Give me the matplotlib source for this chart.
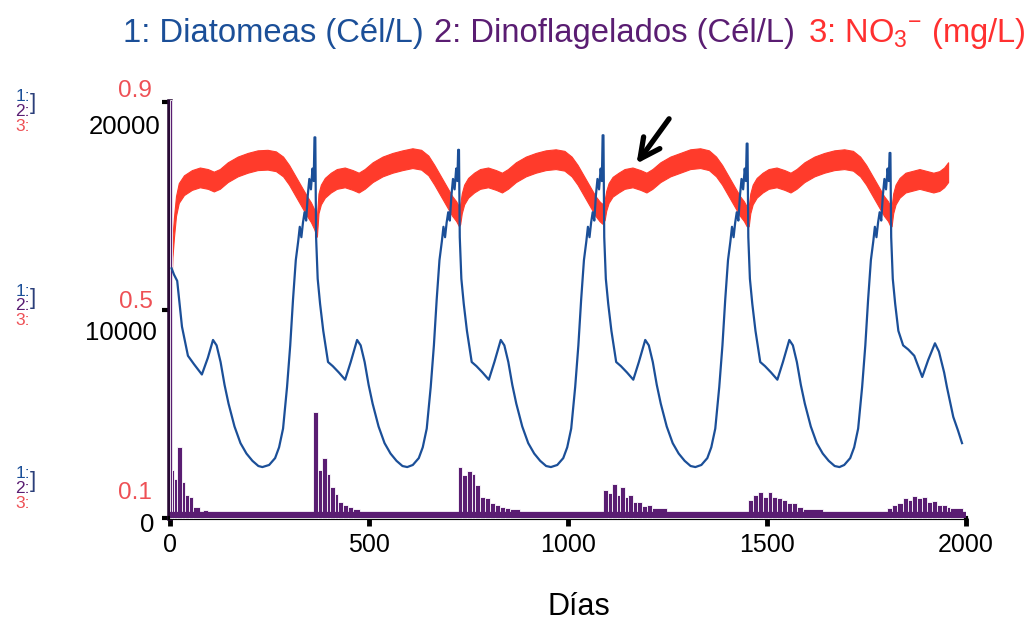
import numpy as np
import matplotlib
matplotlib.use('Agg')
import matplotlib.pyplot as plt

plt.rcParams['font.family'] = ['Liberation Sans', 'DejaVu Sans']
plt.rcParams['mathtext.fontset'] = 'custom'
plt.rcParams['mathtext.rm'] = 'Liberation Sans'
plt.rcParams['mathtext.it'] = 'Liberation Sans:italic'

# ---- data ----
# 1: Diatomeas (Cel/L)
diat_day = [4, 10, 18, 30, 45, 60, 80, 95, 108, 117, 127, 137, 147, 162, 177, 192, 207, 222, 232,
            249, 264, 274, 284, 294, 302, 309, 316, 322, 326, 330, 334, 338, 342, 346, 350, 354, 358, 361, 363,
            365, 367, 371, 377, 385, 397, 409, 424, 440, 454, 470, 479, 489, 499, 509, 524, 539, 554, 569, 584, 596,
            610, 625, 635, 645, 655, 663, 670, 677, 683, 687, 691, 695, 699, 703, 707, 711, 715, 719, 722, 724,
            726, 728, 732, 738, 746, 758, 770, 785, 801, 815, 831, 840, 850, 860, 870, 885, 900, 915, 930, 945, 957,
            973, 988, 998, 1008, 1018, 1026, 1033, 1040, 1046, 1050, 1054, 1058, 1062, 1066, 1070, 1074, 1078, 1082, 1085, 1087,
            1089, 1091, 1095, 1101, 1109, 1121, 1133, 1148, 1164, 1178, 1194, 1203, 1213, 1223, 1233, 1248, 1263, 1278, 1293, 1308, 1320,
            1335, 1350, 1360, 1370, 1380, 1388, 1395, 1402, 1408, 1412, 1416, 1420, 1424, 1428, 1432, 1436, 1440, 1444, 1447, 1449,
            1451, 1453, 1457, 1463, 1471, 1483, 1495, 1510, 1526, 1540, 1556, 1565, 1575, 1585, 1595, 1610, 1625, 1640, 1655, 1670, 1682,
            1694, 1709, 1719, 1729, 1739, 1747, 1754, 1761, 1767, 1771, 1775, 1779, 1783, 1787, 1791, 1795, 1799, 1803, 1806, 1808,
            1810, 1812, 1816, 1822, 1830, 1842, 1855, 1870, 1890, 1905, 1922, 1932, 1945, 1952, 1968, 1980, 1990]
diat_val = [12000, 11700, 11400, 9200, 7800, 7400, 6900, 7700, 8560, 8300, 7500, 6400, 5500, 4400, 3600, 3100, 2750, 2500, 2450,
            2550, 2880, 3400, 4300, 6300, 8300, 10500, 12400, 13300, 14000, 13500, 14200, 14700, 14300, 15500, 16300, 15800, 16800, 16200, 18300,
            18300, 13500, 11500, 10300, 9000, 7500, 7300, 7000, 6650, 7500, 8560, 8300, 7500, 6400, 5500, 4400, 3600, 3100, 2750, 2500, 2450,
            2550, 2880, 3400, 4300, 6300, 8300, 10500, 12400, 13300, 14000, 13500, 14200, 14700, 14300, 15500, 16300, 15800, 16800, 16200, 17700,
            17700, 13500, 11500, 10300, 9000, 7500, 7300, 7000, 6650, 7500, 8560, 8300, 7500, 6400, 5500, 4400, 3600, 3100, 2750, 2500, 2450,
            2550, 2880, 3400, 4300, 6300, 8300, 10500, 12400, 13300, 14000, 13500, 14200, 14700, 14300, 15500, 16300, 15800, 16800, 16200, 18400,
            18400, 13500, 11500, 10300, 9000, 7500, 7300, 7000, 6650, 7500, 8560, 8300, 7500, 6400, 5500, 4400, 3600, 3100, 2750, 2500, 2450,
            2550, 2880, 3400, 4300, 6300, 8300, 10500, 12400, 13300, 14000, 13500, 14200, 14700, 14300, 15500, 16300, 15800, 16800, 16200, 18000,
            18000, 13500, 11500, 10300, 9000, 7500, 7300, 7000, 6650, 7500, 8560, 8300, 7500, 6400, 5500, 4400, 3600, 3100, 2750, 2500, 2450,
            2550, 2880, 3400, 4300, 6300, 8300, 10500, 12400, 13300, 14000, 13500, 14200, 14700, 14300, 15500, 16300, 15800, 16800, 16200, 17550,
            17550, 13500, 11500, 10300, 9000, 8300, 8100, 7800, 6780, 7600, 8400, 8000, 7000, 6300, 4860, 4200, 3600]

# 2: Dinoflagelados (Cel/L) - bar starts and heights (0 = gap)
dino_day = [0, 5, 9, 17, 30, 38, 48, 58, 75, 83, 95,
            359, 372, 382, 395, 402, 415, 422, 435, 447, 460, 477,
            724, 734, 746, 759, 766, 779, 792, 804, 817, 829, 842, 854, 880,
            1088, 1101, 1111, 1123, 1131, 1143, 1151, 1163, 1173, 1186, 1198, 1211, 1249,
            1452, 1465, 1478, 1490, 1503, 1513, 1525, 1538, 1550, 1563, 1575, 1590, 1641,
            1802, 1814, 1827, 1842, 1855, 1865, 1877, 1890, 1902, 1915, 1927, 1940, 1952, 1960, 1993]
dino_val = [20100, 2300, 1900, 3400, 1750, 1100, 1000, 550, 0, 400, 0,
            5100, 2300, 2900, 2100, 1500, 1150, 770, 620, 530, 430, 0,
            2450, 2050, 2250, 2100, 1600, 1000, 950, 720, 650, 520, 480, 430, 0,
            1350, 1200, 1630, 1100, 1500, 1000, 1100, 770, 770, 580, 625, 480, 0,
            870, 1100, 1250, 1000, 1250, 1000, 960, 870, 720, 720, 530, 430, 0,
            480, 625, 720, 960, 870, 1060, 960, 1000, 770, 800, 625, 625, 530, 480, 0]
dino_base = 150

# 3: NO3- (mg/L), centre of the noisy band
no3_day = [0, 3, 6, 10, 15, 22, 35, 55, 75, 95, 110, 125, 145, 170, 195, 220, 245, 266, 284, 299, 314, 329, 344, 354, 362, 369,
           373, 379, 389, 404, 419, 439, 459, 474, 489, 509, 534, 559, 584, 609, 631, 649, 664, 679, 694, 709, 719, 726, 729,
           733, 739, 749, 764, 779, 799, 819, 834, 849, 869, 894, 919, 944, 969, 991, 1009, 1024, 1039, 1054, 1069, 1079, 1086, 1092,
           1096, 1102, 1112, 1127, 1142, 1162, 1182, 1197, 1212, 1232, 1257, 1282, 1307, 1332, 1354, 1372, 1387, 1402, 1417, 1432, 1442, 1449, 1454,
           1458, 1464, 1474, 1489, 1504, 1524, 1544, 1559, 1574, 1594, 1619, 1644, 1669, 1694, 1716, 1734, 1749, 1764, 1779, 1794, 1804, 1810, 1813,
           1817, 1823, 1833, 1848, 1863, 1883, 1903, 1918, 1933, 1945, 1955]
no3_val = [0.42, 0.55, 0.62, 0.66, 0.70, 0.725, 0.74, 0.75, 0.755, 0.752, 0.747, 0.752, 0.765, 0.776, 0.783, 0.788, 0.789, 0.786, 0.776, 0.76, 0.74, 0.72, 0.70, 0.688, 0.675, 0.66,
           0.705, 0.722, 0.735, 0.745, 0.752, 0.755, 0.75, 0.745, 0.752, 0.765, 0.776, 0.783, 0.788, 0.792, 0.789, 0.778, 0.76, 0.74, 0.72, 0.70, 0.69, 0.68, 0.684,
           0.705, 0.722, 0.735, 0.745, 0.752, 0.755, 0.75, 0.745, 0.752, 0.765, 0.776, 0.783, 0.788, 0.79, 0.787, 0.776, 0.76, 0.74, 0.72, 0.70, 0.69, 0.685, 0.692,
           0.71, 0.725, 0.737, 0.745, 0.752, 0.755, 0.75, 0.745, 0.752, 0.765, 0.776, 0.783, 0.79, 0.792, 0.788, 0.776, 0.76, 0.74, 0.72, 0.70, 0.69, 0.68, 0.68,
           0.705, 0.722, 0.735, 0.745, 0.752, 0.755, 0.75, 0.745, 0.752, 0.765, 0.776, 0.783, 0.788, 0.79, 0.787, 0.776, 0.76, 0.74, 0.72, 0.70, 0.69, 0.68, 0.68,
           0.705, 0.722, 0.735, 0.745, 0.748, 0.752, 0.748, 0.745, 0.748, 0.755, 0.765]

x_ticks = [0, 500, 1000, 1500, 2000]
left_vals = [0.9, 0.5, 0.1]
left_counts = ['20000', '10000', '0']
title_parts = ['1: Diatomeas (Cél/L)', '2: Dinoflagelados (Cél/L)', '3: NO$_3$$^{-}$ (mg/L)']

c_blue = '#1b4f98'
c_purple = '#5a1d72'
c_red = '#ff3b2b'
c_red_txt = '#ee5055'

fig = plt.figure(figsize=(10.28, 6.23), dpi=100)
ax = fig.add_axes([0.1654, 0.1685, 0.7743, 0.6678])
ax2 = ax.twinx()

# NO3 band (drawn underneath)
no3_day = np.array(no3_day)
no3_val = np.array(no3_val)
band = 0.019
ax.fill_between(no3_day, no3_val - band, no3_val + band, color=c_red, lw=0.8, edgecolor=c_red)
ax.set_ylim(0.1, 0.9)
ax.set_xlim(0, 2000)

# dinoflagellates
dd = np.array(dino_day)
dv = np.array(dino_val)
ax2.bar(dd[:-1], dv[:-1], width=np.diff(dd), align='edge', color=c_purple,
        edgecolor='white', linewidth=0.6, zorder=2, clip_on=False)
ax2.axhline(dino_base, xmin=0, xmax=0.997, color=c_purple, lw=4.5, zorder=3)

# diatoms
ax2.plot(diat_day, diat_val, color=c_blue, lw=1.6, zorder=4)
ax2.set_ylim(0, 20000)
ax2.set_xlim(0, 2000)
for s in ax2.spines.values():
    s.set_visible(False)
ax2.set_yticks([])

for s in ['top', 'right']:
    ax.spines[s].set_visible(False)
ax.spines['left'].set_linewidth(4)
ax.spines['left'].set_color('#2a0b36')
ax.spines['bottom'].set_linewidth(3)
ax.set_yticks(left_vals)
ax.set_yticklabels([])
ax.tick_params(axis='y', length=6, width=3, direction='out')
ax.set_xticks(x_ticks)
ax.set_xticklabels([str(t) for t in x_ticks], fontsize=18)
ax.tick_params(axis='x', length=6, width=3.5, direction='out', pad=5)

# left labels, STELLA style
red_off = [(-25, 8), (-24.5, 6), (-25, 18)]
blk_off = [(-7, -18), (-9.5, -16.5), (-11, -5)]
for v, lab, ro, bo in zip(left_vals, left_counts, red_off, blk_off):
    ax.annotate(f'{v:.1f}', xy=(0, v), xycoords=('axes fraction', 'data'), xytext=ro,
                textcoords='offset points', ha='center', va='center', fontsize=17.5, color=c_red_txt)
    ax.annotate(lab, xy=(0, v), xycoords=('axes fraction', 'data'), xytext=bo,
                textcoords='offset points', ha='right', va='center', fontsize=18.5, color='black')

grp_off = [(3.6, -6.5, -17.3), (13, 2.9, -7.2), (31.7, 21.6, 10.8)]
for v, (o1, o2, o3) in zip(left_vals, grp_off):
    for txt, oy, col in [('1:', o1, c_blue), ('2:', o2, c_purple), ('3:', o3, c_red_txt)]:
        ax.annotate(txt, xy=(0, v), xycoords=('axes fraction', 'data'), xytext=(-111.5, oy),
                    textcoords='offset points', ha='left', va='center', fontsize=12.5, color=col)
    ax.annotate(']', xy=(0, v), xycoords=('axes fraction', 'data'), xytext=(-101, (o1 + o2) / 2),
                textcoords='offset points', ha='left', va='center', fontsize=16, color='#2b3f7a')

# arrow
ax.annotate('', xy=(1168, 0.777), xytext=(1258, 0.872),
            arrowprops=dict(arrowstyle='->', lw=3.8, color='black', mutation_scale=36))

# title in three colours, laid out one after the other
renderer = fig.canvas.get_renderer()
x0 = 123
gaps = [10, 13, 0]
for txt, col, gap in zip(title_parts, [c_blue, c_purple, '#ff3030'], gaps):
    t = fig.text(x0 / 1028, 0.947, txt, color=col, fontsize=23.6, va='center', ha='left')
    w = t.get_window_extent(renderer).width
    x0 += w + gap

fig.text(0.563, 0.026, 'Días', fontsize=22, ha='center', va='center')

plt.savefig('out.png', dpi=100)
